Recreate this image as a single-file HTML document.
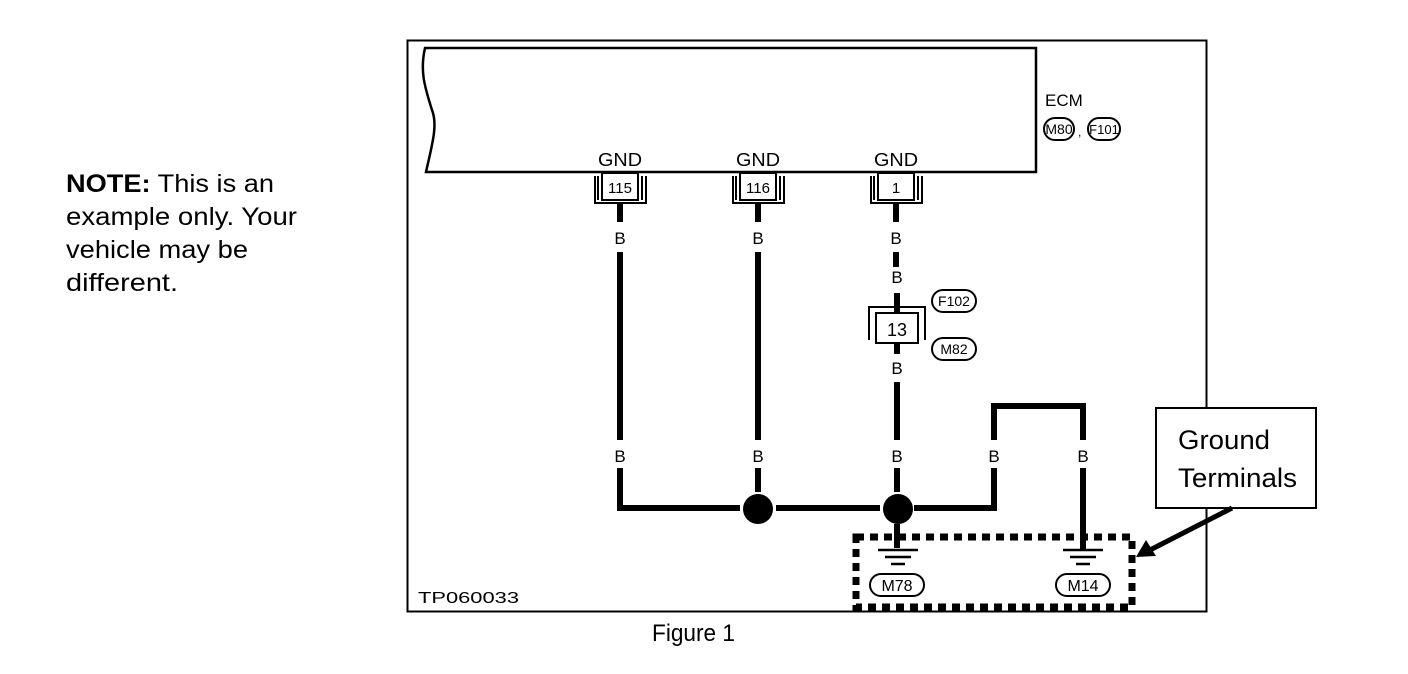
<!DOCTYPE html>
<html><head><style>
body{margin:0;background:#fff;}
svg{display:block;font-family:"Liberation Sans",sans-serif;}
</style></head><body>
<svg width="1408" height="674" viewBox="0 0 1408 674">
<text x="66" y="192" font-size="25" font-weight="bold" textLength="208" lengthAdjust="spacingAndGlyphs">NOTE:<tspan font-weight="normal"> This is an</tspan></text>
<text x="66" y="225" font-size="25" textLength="231" lengthAdjust="spacingAndGlyphs">example only. Your</text>
<text x="66" y="258" font-size="25" textLength="182" lengthAdjust="spacingAndGlyphs">vehicle may be</text>
<text x="66" y="291" font-size="25" textLength="112" lengthAdjust="spacingAndGlyphs">different.</text>
<rect x="407.5" y="40.5" width="799" height="571" fill="none" stroke="#000" stroke-width="2"/>
<path d="M425 48 L1036 48 L1036 172 L426 172 C432 145 438 125 432 110 C424 85 420 70 425 48 Z" fill="none" stroke="#000" stroke-width="2.5"/>
<text x="1045" y="106" font-size="17">ECM</text>
<rect x="1044" y="118" width="30" height="22" rx="11" fill="none" stroke="#000" stroke-width="2"/>
<text x="1059" y="134" font-size="14" text-anchor="middle">M80</text>
<text x="1078" y="136" font-size="12">,</text>
<rect x="1088" y="118" width="32" height="22" rx="11" fill="none" stroke="#000" stroke-width="2"/>
<text x="1104" y="134" font-size="13" text-anchor="middle">F101</text>
<g font-size="18" text-anchor="middle">
<text x="620" y="166" textLength="44" lengthAdjust="spacingAndGlyphs">GND</text><text x="758" y="166" textLength="44" lengthAdjust="spacingAndGlyphs">GND</text><text x="896" y="166" textLength="44" lengthAdjust="spacingAndGlyphs">GND</text>
</g>
<g fill="none" stroke="#000" stroke-width="2">
<rect x="602" y="173" width="36" height="27"/><path d="M595 176 V203 H646 V176"/><path d="M598 176 V200"/><path d="M642 176 V200"/>
<rect x="740" y="173" width="36" height="27"/><path d="M733 176 V203 H784 V176"/><path d="M736 176 V200"/><path d="M780 176 V200"/>
<rect x="878" y="173" width="36" height="27"/><path d="M871 176 V203 H922 V176"/><path d="M874 176 V200"/><path d="M918 176 V200"/>
<rect x="876" y="313" width="42" height="30"/><path d="M869 340 V307 H925 V340"/>
</g>
<g font-size="15" text-anchor="middle">
<text x="620" y="193">115</text><text x="758" y="193">116</text><text x="896" y="193">1</text>
<text x="897" y="336" font-size="18">13</text>
</g>
<g stroke="#000" stroke-width="6" fill="none">
<path d="M620 203 V222 M758 203 V222 M896 203 V222"/>
<path d="M620 252 V440 M758 252 V440"/>
<path d="M620 468 V508 H740 M776 508 H880 M914 508 H994 V468 M994 440 V406 H1083 V440"/>
<path d="M758 468 V492 M897 468 V492"/>
<path d="M1083 468 V550"/>
<path d="M896 252 V267 M897 293 V313 M897 343 V354 M897 382 V440"/>
<path d="M897 524 V548"/>
</g>
<circle cx="758" cy="509" r="15" fill="#000"/>
<circle cx="898" cy="509" r="15" fill="#000"/>
<g font-size="17" text-anchor="middle">
<text x="620" y="244">B</text><text x="758" y="244">B</text><text x="896" y="244">B</text>
<text x="897" y="283">B</text><text x="897" y="374">B</text>
<text x="620" y="462">B</text><text x="758" y="462">B</text><text x="897" y="462">B</text><text x="994" y="462">B</text><text x="1083" y="462">B</text>
</g>
<rect x="932" y="290" width="44" height="22" rx="11" fill="none" stroke="#000" stroke-width="2"/>
<text x="954" y="306" font-size="14" text-anchor="middle">F102</text>
<rect x="932" y="338" width="44" height="22" rx="11" fill="none" stroke="#000" stroke-width="2"/>
<text x="954" y="354" font-size="14" text-anchor="middle">M82</text>
<g stroke="#000" stroke-width="2.5">
<path d="M878 550 H918 M885 557 H911 M891 564 H905"/>
<path d="M1063 550 H1103 M1070 557 H1096 M1076 564 H1090"/>
</g>
<rect x="870" y="574" width="54" height="22" rx="11" fill="none" stroke="#000" stroke-width="2"/>
<text x="897" y="591" font-size="16" text-anchor="middle">M78</text>
<rect x="1056" y="574" width="54" height="22" rx="11" fill="none" stroke="#000" stroke-width="2"/>
<text x="1083" y="591" font-size="16" text-anchor="middle">M14</text>
<rect x="856" y="537" width="276" height="70" fill="none" stroke="#000" stroke-width="7" stroke-dasharray="8 6"/>
<rect x="1156" y="408" width="160" height="100" fill="#fff" stroke="#000" stroke-width="2"/>
<text x="1178" y="449" font-size="27" textLength="92" lengthAdjust="spacingAndGlyphs">Ground</text>
<text x="1178" y="487" font-size="27" textLength="119" lengthAdjust="spacingAndGlyphs">Terminals</text>
<path d="M1232 508 L1150 550" stroke="#000" stroke-width="5"/>
<polygon points="1136,557 1146,540 1156,556" fill="#000"/>
<text x="418" y="603" font-size="16" textLength="101" lengthAdjust="spacingAndGlyphs">TP060033</text>
<text x="652" y="641" font-size="24" textLength="83" lengthAdjust="spacingAndGlyphs">Figure 1</text>
</svg>
</body></html>
